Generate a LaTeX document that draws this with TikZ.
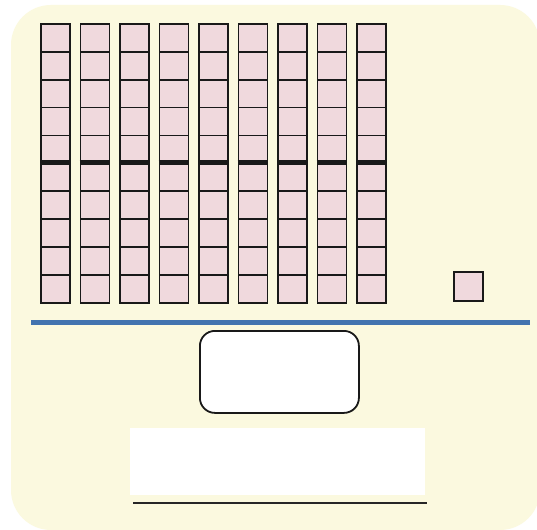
\documentclass[tikz,border=0pt]{standalone}
\begin{document}
\begin{tikzpicture}[x=1pt,y=-1pt,
  cell/.style={draw=black!90,line width=1.8pt,fill=pinkcell},
  midline/.style={line width=4.5pt,black!90},
  blueline/.style={line width=5pt,blueL},
  bgpanel/.style={fill=bgyellow,draw=none,rounded corners=40pt},
  answerbox/.style={draw=black!90,line width=1.8pt,fill=white,rounded corners=15pt},
  writebox/.style={fill=white,draw=none},
  writeline/.style={line width=1.8pt,black!85}]
\definecolor{pinkcell}{HTML}{F0D9DD}
\definecolor{bgyellow}{HTML}{FBF9DF}
\definecolor{blueL}{HTML}{4273AF}
\useasboundingbox (0,0) rectangle (537,529);
\fill[white] (0,0) rectangle (537,529);
\path[bgpanel] (11,5) rectangle (540,530);
\foreach \i in {0,...,8}{
  \foreach \j in {0,...,9}{
    \node[cell,minimum width=29pt,minimum height=27.9pt,inner sep=0pt,anchor=north west]
      (c\i-\j) at ({40+39.5*\i},{23+27.9*\j}) {};
  }
  \draw[midline] (c\i-5.north west) -- (c\i-5.north east);
}
\node[cell,minimum width=29pt,minimum height=29pt,inner sep=0pt,anchor=south west] (one) at (453,302) {};
\coordinate (bl) at (31,322);
\coordinate (br) at (530,322);
\draw[blueline] (bl) -- (br);
\node[answerbox,minimum width=159pt,minimum height=82pt,anchor=north west] (ans) at (199,330) {};
\node[writebox,minimum width=295pt,minimum height=67pt,inner sep=0pt,anchor=north west] (wb) at (130,428) {};
\coordinate (wl) at (133,503);
\coordinate (wr) at (427,503);
\draw[writeline] (wl) -- (wr);
\end{tikzpicture}
\end{document}
